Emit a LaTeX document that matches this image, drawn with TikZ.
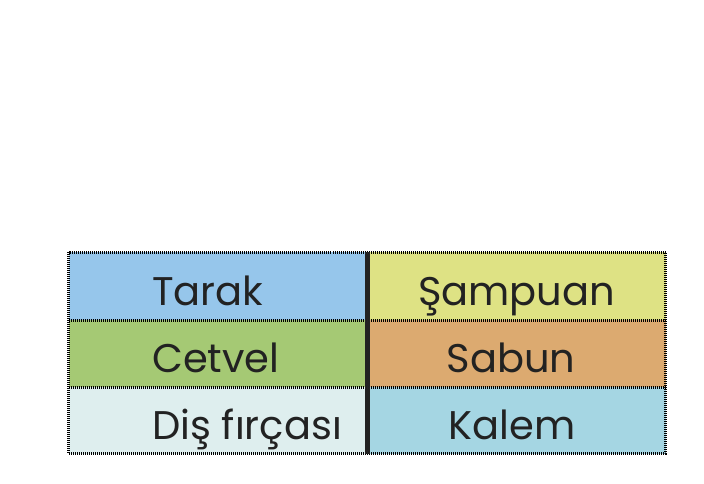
\documentclass[tikz,border=0pt]{standalone}
\usepackage{fontspec}
\setmainfont{Poppins}
\definecolor{ink}{RGB}{34,34,34}
\definecolor{tarakblue}{RGB}{150,198,235}
\definecolor{sampuanyellow}{RGB}{222,226,132}
\definecolor{cetvelgreen}{RGB}{165,201,116}
\definecolor{sabunorange}{RGB}{220,170,112}
\definecolor{fircamint}{RGB}{222,238,238}
\definecolor{kalemblue}{RGB}{165,214,227}
\begin{document}
\begin{tikzpicture}[x=1pt,y=-1pt]
\tikzset{word/.style={font=\fontsize{40}{40}\selectfont, text=ink, inner sep=0pt},
  dotline/.style={line width=3pt, dash pattern=on 1pt off 1pt}}
\useasboundingbox (0,0) rectangle (704,484);
% cell colours
\fill[tarakblue] (68.5,252) rectangle (367.5,320);
\fill[sampuanyellow] (367.5,252) rectangle (665.5,320);
\fill[cetvelgreen] (68.5,320) rectangle (367.5,387);
\fill[sabunorange] (367.5,320) rectangle (665.5,387);
\fill[fircamint] (68.5,387) rectangle (367.5,453.5);
\fill[kalemblue] (367.5,387) rectangle (665.5,453.5);
% words
\node[word, anchor=base west] (tarak) at (152,305) {Tarak};
\node[word, anchor=base] (sampuan) at (516.5,305) {Şampuan};
\node[word, anchor=base west] (cetvel) at (152,372) {Cetvel};
\node[word, anchor=base] (sabun) at (511,372) {Sabun};
\node[word, anchor=base west] (firca) at (152,439) {Diş fırçası};
\node[word, anchor=base] (kalem) at (512,439) {Kalem};
% borders
\draw[dotline] (68.5,252) rectangle (665.5,453.5);
\draw[dotline] (68.5,320) -- (665.5,320);
\draw[dotline] (68.5,387) -- (665.5,387);
\draw[line width=4.5pt, ink] (367.5,252) -- (367.5,453.5);
\end{tikzpicture}
\end{document}
